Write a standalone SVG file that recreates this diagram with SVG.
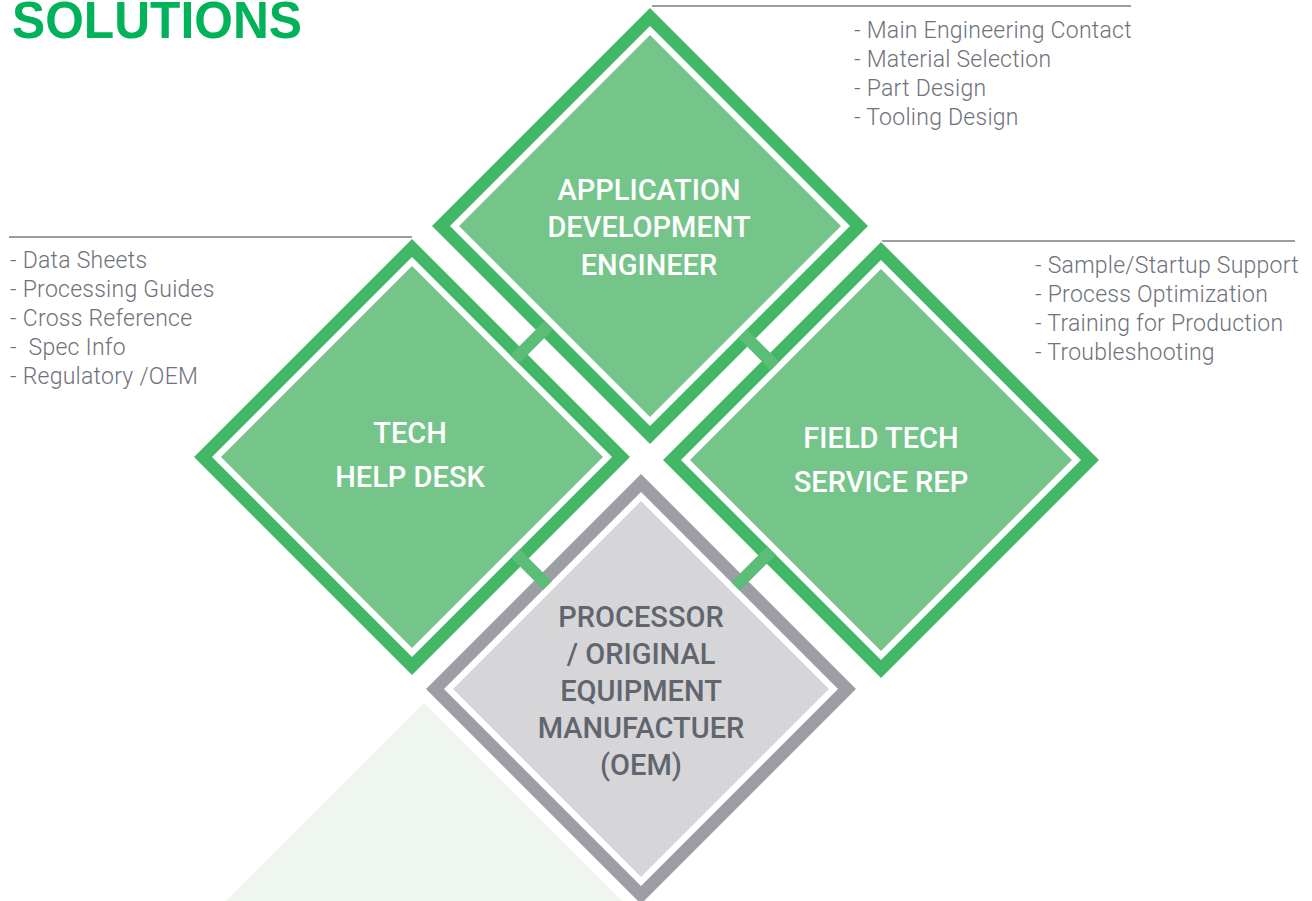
<svg xmlns="http://www.w3.org/2000/svg" xmlns:xlink="http://www.w3.org/1999/xlink" width="1312" height="901" viewBox="0 0 1312 901">
<style>
.band{fill:#42b866}
.gap{fill:#ffffff}
.fill{fill:#75c58a}
.gband{fill:#9d9ea5}
.gfill{fill:#d6d6d9}
.lbl{font-family:Roboto,"Liberation Sans",sans-serif;font-weight:500;font-size:29px;text-anchor:middle;fill:#ffffff}
.glbl{fill:#60656e}
.note{font-family:Roboto,"Liberation Sans",sans-serif;font-weight:300;font-size:23px;letter-spacing:0.25px;fill:#6f727a}
.rule{stroke:#777b83;stroke-width:1.6;fill:none}
.rung{stroke:#5cbd78;stroke-width:12;fill:none}
</style>
<defs>
<polygon id="o218" points="0,-218 218,0 0,218 -218,0"/>
<polygon id="i200" points="0,-200 200,0 0,200 -200,0"/>
<polygon id="f191" points="0,-191 191,0 0,191 -191,0"/>
<polygon id="o215" points="0,-215 215,0 0,215 -215,0"/>
<polygon id="i197" points="0,-197 197,0 0,197 -197,0"/>
<polygon id="f188" points="0,-188 188,0 0,188 -188,0"/>
</defs>
<rect width="1312" height="901" fill="#ffffff"/>
<polygon points="424,703 624,903 224,903" fill="#eff6ef"/>
<text x="12" y="38" font-family="'Liberation Sans',Arial,sans-serif" font-weight="700" font-size="52" fill="#00b259" textLength="290" lengthAdjust="spacingAndGlyphs">SOLUTIONS</text>

<g id="rules">
<line class="rule" x1="652" y1="6" x2="1131" y2="6"/>
<line class="rule" x1="9" y1="237" x2="412" y2="237"/>
<line class="rule" x1="882" y1="241" x2="1295" y2="241"/>
</g>

<g id="node-app">
<use href="#o218" x="650" y="226" class="band"/>
<use href="#i200" x="650" y="226" class="gap"/>
<use href="#f191" x="650" y="226" class="fill"/>
<text class="lbl" x="649" y="200">APPLICATION</text>
<text class="lbl" x="649" y="237">DEVELOPMENT</text>
<text class="lbl" x="649" y="275">ENGINEER</text>
</g>

<g id="node-tech">
<use href="#o218" x="412" y="457" class="band"/>
<use href="#i200" x="412" y="457" class="gap"/>
<use href="#f191" x="412" y="457" class="fill"/>
<text class="lbl" x="410" y="443">TECH</text>
<text class="lbl" x="410" y="487">HELP DESK</text>
</g>

<g id="node-field">
<use href="#o218" x="881" y="460" class="band"/>
<use href="#i200" x="881" y="460" class="gap"/>
<use href="#f191" x="881" y="460" class="fill"/>
<text class="lbl" x="881" y="448">FIELD TECH</text>
<text class="lbl" x="881" y="492">SERVICE REP</text>
</g>

<g id="node-oem">
<use href="#o215" x="641" y="689" class="gband"/>
<use href="#i197" x="641" y="689" class="gap"/>
<use href="#f188" x="641" y="689" class="gfill"/>
<text class="lbl glbl" x="641" y="627">PROCESSOR</text>
<text class="lbl glbl" x="641" y="664">/ ORIGINAL</text>
<text class="lbl glbl" x="641" y="701">EQUIPMENT</text>
<text class="lbl glbl" x="641" y="738">MANUFACTUER</text>
<text class="lbl glbl" x="641" y="775">(OEM)</text>
</g>

<g id="connectors">
<line class="rung" x1="514.5" y1="359.5" x2="549" y2="325"/>
<line class="rung" x1="742.5" y1="333.5" x2="775" y2="366"/>
<line class="rung" x1="515.5" y1="553.5" x2="547.5" y2="585.5"/>
<line class="rung" x1="735.5" y1="586.5" x2="771.5" y2="550.5"/>
</g>

<g id="notes-app">
<text class="note" x="854" y="38">- Main Engineering Contact</text>
<text class="note" x="854" y="67">- Material Selection</text>
<text class="note" x="854" y="96">- Part Design</text>
<text class="note" x="854" y="125">- Tooling Design</text>
</g>
<g id="notes-tech">
<text class="note" x="10" y="268">- Data Sheets</text>
<text class="note" x="10" y="297">- Processing Guides</text>
<text class="note" x="10" y="326">- Cross Reference</text>
<text class="note" x="10" y="355" xml:space="preserve">-  Spec Info</text>
<text class="note" x="10" y="384">- Regulatory /OEM</text>
</g>
<g id="notes-field">
<text class="note" x="1035" y="273">- Sample/Startup Support</text>
<text class="note" x="1035" y="302">- Process Optimization</text>
<text class="note" x="1035" y="331">- Training for Production</text>
<text class="note" x="1035" y="360">- Troubleshooting</text>
</g>
</svg>
